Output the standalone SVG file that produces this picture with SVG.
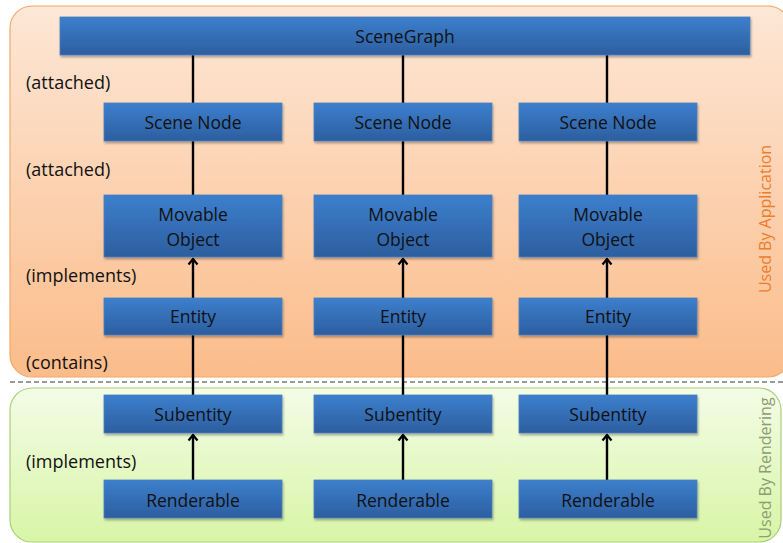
<svg xmlns="http://www.w3.org/2000/svg" width="783" height="543" viewBox="0 0 783 543">
<defs>
<linearGradient id="gOrange" x1="0" y1="0" x2="0" y2="1">
<stop offset="0" stop-color="#fde7d6"/>
<stop offset="1" stop-color="#fbbc8a"/>
</linearGradient>
<linearGradient id="gGreen" x1="0" y1="0" x2="0" y2="1">
<stop offset="0" stop-color="#f3fce6"/>
<stop offset="1" stop-color="#d8f5a6"/>
</linearGradient>
<linearGradient id="gBox" x1="0" y1="0" x2="0" y2="1">
<stop offset="0" stop-color="#3d7fcd"/>
<stop offset="1" stop-color="#2c5e9f"/>
</linearGradient>
<filter id="sh" x="-5%" y="-20%" width="110%" height="150%">
<feDropShadow dx="1" dy="2" stdDeviation="1.2" flood-color="#000" flood-opacity="0.3"/>
</filter>
<marker id="arr" viewBox="0 0 12 12" refX="10" refY="6" markerWidth="12" markerHeight="12" markerUnits="userSpaceOnUse" orient="auto">
<path d="M4.5,1.5 L10,6 L4.5,10.5" fill="none" stroke="#000" stroke-width="2.2"/>
</marker>
</defs>
<style>
.box{fill:url(#gBox);stroke:#4a7fbf;stroke-width:0.8;filter:url(#sh)}
.bt{font-family:"Open Sans","Liberation Sans",sans-serif;font-size:17.5px;fill:#111;text-anchor:middle}
.lbl{font-family:"Open Sans","Liberation Sans",sans-serif;font-size:18px;fill:#111}
.ln{stroke:#000;stroke-width:2.4;fill:none}
</style>
<rect x="0" y="0" width="783" height="543" fill="#ffffff"/>
<g id="panel-application">
<rect x="10" y="6" width="780" height="371" rx="22" fill="url(#gOrange)" stroke="#f2a86a" stroke-width="1.2"/>
<text transform="translate(771,219) rotate(-90)" font-family="'Open Sans','Liberation Sans',sans-serif" font-size="16" fill="#ee7d2a" text-anchor="middle">Used By Application</text>
</g>
<g id="panel-rendering">
<rect x="10" y="388" width="771" height="154" rx="22" fill="url(#gGreen)" stroke="#a9cf78" stroke-width="1.2"/>
<text transform="translate(771,468) rotate(-90)" font-family="'Open Sans','Liberation Sans',sans-serif" font-size="16" fill="#8c9d70" text-anchor="middle">Used By Rendering</text>
</g>
<line x1="10" y1="382" x2="783" y2="382" stroke="#333" stroke-width="1" stroke-dasharray="5,3"/>
<g id="labels">
<text class="lbl" x="26" y="89">(attached)</text>
<text class="lbl" x="26" y="176">(attached)</text>
<text class="lbl" x="26" y="282">(implements)</text>
<text class="lbl" x="26" y="369">(contains)</text>
<text class="lbl" x="26" y="468">(implements)</text>
</g>
<g id="connectors">
<line class="ln" x1="193" y1="55" x2="193" y2="103"/>
<line class="ln" x1="403" y1="55" x2="403" y2="103"/>
<line class="ln" x1="607" y1="55" x2="607" y2="103"/>
<line class="ln" x1="193" y1="141" x2="193" y2="195"/>
<line class="ln" x1="403" y1="141" x2="403" y2="195"/>
<line class="ln" x1="607" y1="141" x2="607" y2="195"/>
<line class="ln" x1="193" y1="298" x2="193" y2="259" marker-end="url(#arr)"/>
<line class="ln" x1="403" y1="298" x2="403" y2="259" marker-end="url(#arr)"/>
<line class="ln" x1="607" y1="298" x2="607" y2="259" marker-end="url(#arr)"/>
<line class="ln" x1="193" y1="335" x2="193" y2="395"/>
<line class="ln" x1="403" y1="335" x2="403" y2="395"/>
<line class="ln" x1="607" y1="335" x2="607" y2="395"/>
<line class="ln" x1="193" y1="480" x2="193" y2="435" marker-end="url(#arr)"/>
<line class="ln" x1="403" y1="480" x2="403" y2="435" marker-end="url(#arr)"/>
<line class="ln" x1="607" y1="480" x2="607" y2="435" marker-end="url(#arr)"/>
</g>
<g id="scenegraph"><rect class="box" x="60" y="17" width="690" height="38"/><text class="bt" x="405" y="43">SceneGraph</text></g>
<g id="scenenode1"><rect class="box" x="104" y="103" width="178" height="38"/><text class="bt" x="193" y="129">Scene Node</text></g>
<g id="scenenode2"><rect class="box" x="314" y="103" width="178" height="38"/><text class="bt" x="403" y="129">Scene Node</text></g>
<g id="scenenode3"><rect class="box" x="519" y="103" width="178" height="38"/><text class="bt" x="608" y="129">Scene Node</text></g>
<g id="movable1"><rect class="box" x="104" y="195" width="178" height="62"/><text class="bt" x="193" y="221">Movable</text><text class="bt" x="193" y="246">Object</text></g>
<g id="movable2"><rect class="box" x="314" y="195" width="178" height="62"/><text class="bt" x="403" y="221">Movable</text><text class="bt" x="403" y="246">Object</text></g>
<g id="movable3"><rect class="box" x="519" y="195" width="178" height="62"/><text class="bt" x="608" y="221">Movable</text><text class="bt" x="608" y="246">Object</text></g>
<g id="entity1"><rect class="box" x="104" y="298" width="178" height="37"/><text class="bt" x="193" y="323">Entity</text></g>
<g id="entity2"><rect class="box" x="314" y="298" width="178" height="37"/><text class="bt" x="403" y="323">Entity</text></g>
<g id="entity3"><rect class="box" x="519" y="298" width="178" height="37"/><text class="bt" x="608" y="323">Entity</text></g>
<g id="subentity1"><rect class="box" x="104" y="395" width="178" height="38"/><text class="bt" x="193" y="421">Subentity</text></g>
<g id="subentity2"><rect class="box" x="314" y="395" width="178" height="38"/><text class="bt" x="403" y="421">Subentity</text></g>
<g id="subentity3"><rect class="box" x="519" y="395" width="178" height="38"/><text class="bt" x="608" y="421">Subentity</text></g>
<g id="renderable1"><rect class="box" x="104" y="480" width="178" height="38"/><text class="bt" x="193" y="507">Renderable</text></g>
<g id="renderable2"><rect class="box" x="314" y="480" width="178" height="38"/><text class="bt" x="403" y="507">Renderable</text></g>
<g id="renderable3"><rect class="box" x="519" y="480" width="178" height="38"/><text class="bt" x="608" y="507">Renderable</text></g>
</svg>
